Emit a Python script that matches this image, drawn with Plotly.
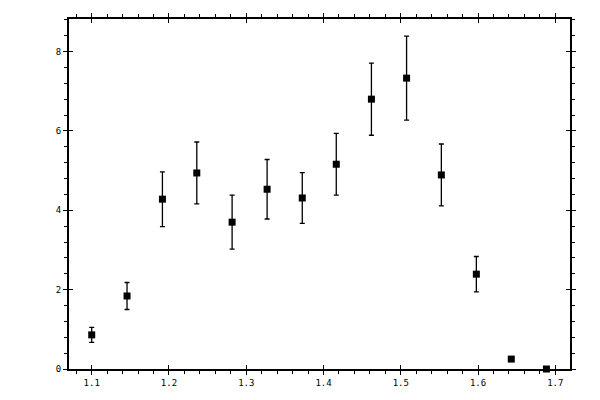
import plotly.graph_objects as go

# values
x_vals = [1.100, 1.1457, 1.1915, 1.236, 1.2817, 1.327, 1.3725, 1.4165,
          1.462, 1.5075, 1.5525, 1.5978, 1.643, 1.6885]
y_vals = [0.86, 1.84, 4.28, 4.94, 3.70, 4.53, 4.31, 5.16,
          6.80, 7.33, 4.89, 2.39, 0.25, 0.0]
y_err = [0.19, 0.34, 0.69, 0.78, 0.68, 0.75, 0.64, 0.78,
         0.91, 1.06, 0.78, 0.445, 0.0, 0.0]

x_ticks = [1.1, 1.2, 1.3, 1.4, 1.5, 1.6, 1.7]
y_ticks = [0, 2, 4, 6, 8]

x_range = [1.0706, 1.719]
y_range = [0, 8.82]

fnt = dict(family="DejaVu Sans Mono", size=9, color="black")

fig = go.Figure()
fig.add_trace(go.Scatter(
    x=x_vals, y=y_vals,
    mode="markers",
    marker=dict(symbol="square", size=7, color="black"),
    error_y=dict(type="data", array=y_err, visible=True,
                 color="black", thickness=1.3, width=2.5),
    cliponaxis=False,
    showlegend=False,
))
# empty trace so the overlay axes (inside half of the major ticks) get drawn
fig.add_trace(go.Scatter(x=[], y=[], xaxis="x2", yaxis="y2", showlegend=False))

# page body adds an 8px offset, margins are shifted to make up for it
fig.update_layout(
    width=600, height=400,
    margin=dict(l=61, r=38, t=11, b=39),
    paper_bgcolor="white",
    plot_bgcolor="white",
    xaxis=dict(
        range=x_range, tickvals=x_ticks, ticktext=[str(t) for t in x_ticks],
        showline=True, linecolor="black", linewidth=2, mirror="ticks",
        ticks="outside", ticklen=4, tickwidth=1, tickcolor="black",
        minor=dict(ticks="outside", ticklen=3, dtick=0.02, tick0=1.1,
                   tickcolor="black", tickwidth=1),
        showgrid=False, zeroline=False, tickfont=fnt, automargin=False,
    ),
    yaxis=dict(
        range=y_range, tickvals=y_ticks,
        showline=True, linecolor="black", linewidth=2, mirror="ticks",
        ticks="outside", ticklen=4, tickwidth=1, tickcolor="black",
        minor=dict(ticks="outside", ticklen=3, dtick=0.4, tick0=0,
                   tickcolor="black", tickwidth=1),
        showgrid=False, zeroline=False, tickfont=fnt, automargin=False,
    ),
    xaxis2=dict(
        range=x_range, tickvals=x_ticks, overlaying="x", anchor="y",
        showline=False, mirror="ticks", ticks="inside", ticklen=4,
        tickwidth=1, tickcolor="black", showticklabels=False,
        showgrid=False, zeroline=False, automargin=False,
    ),
    yaxis2=dict(
        range=y_range, tickvals=y_ticks, overlaying="y", anchor="x",
        showline=False, mirror="ticks", ticks="inside", ticklen=4,
        tickwidth=1, tickcolor="black", showticklabels=False,
        showgrid=False, zeroline=False, automargin=False,
    ),
)

fig.write_html("out.html")
